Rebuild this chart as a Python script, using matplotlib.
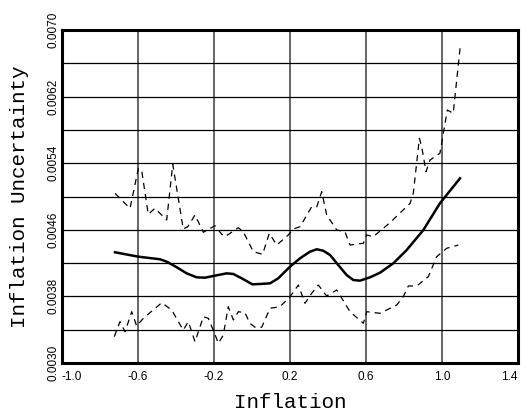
import matplotlib
matplotlib.use('Agg')
import matplotlib.pyplot as plt
import numpy as np

# estimated conditional variance and its confidence band
x_mid = [-0.721, -0.598, -0.484, -0.449, -0.396, -0.344, -0.291, -0.247, -0.204, -0.133,
         -0.098, -0.054, 0.002, 0.042, 0.095, 0.138, 0.200, 0.253, 0.305, 0.341,
         0.375, 0.411, 0.454, 0.498, 0.533, 0.568, 0.621, 0.674, 0.744, 0.814,
         0.902, 0.989, 1.095]
y_mid = [0.004330, 0.004277, 0.004246, 0.004217, 0.004150, 0.004077, 0.004029, 0.004025,
         0.004045, 0.004077, 0.004069, 0.004017, 0.003945, 0.003949, 0.003957, 0.004017,
         0.004157, 0.004258, 0.004337, 0.004366, 0.004349, 0.004297, 0.004177, 0.004057,
         0.003997, 0.003989, 0.004029, 0.004085, 0.004198, 0.004357, 0.004598, 0.004918,
         0.005219]

x_up = [-0.721, -0.695, -0.642, -0.598, -0.581, -0.546, -0.511, -0.449, -0.417, -0.362,
        -0.338, -0.300, -0.256, -0.195, -0.159, -0.142, -0.072, -0.046, 0.007, 0.056,
        0.091, 0.130, 0.191, 0.217, 0.253, 0.314, 0.341, 0.367, 0.393, 0.446,
        0.489, 0.516, 0.586, 0.604, 0.638, 0.726, 0.832, 0.849, 0.881, 0.893,
        0.916, 0.937, 0.989, 1.028, 1.059, 1.095]
y_up = [0.005038, 0.004978, 0.004858, 0.005339, 0.005318, 0.004786, 0.004858, 0.004718,
        0.005387, 0.004610, 0.004637, 0.004778, 0.004570, 0.004649, 0.004546, 0.004517,
        0.004625, 0.004577, 0.004337, 0.004306, 0.004558, 0.004417, 0.004538, 0.004610,
        0.004637, 0.004877, 0.004877, 0.005058, 0.004778, 0.004598, 0.004577, 0.004417,
        0.004438, 0.004538, 0.004517, 0.004685, 0.004918, 0.005038, 0.005699, 0.005598,
        0.005298, 0.005438, 0.005519, 0.006039, 0.005999, 0.006780]

x_lo = [-0.725, -0.695, -0.668, -0.633, -0.607, -0.572, -0.475, -0.423, -0.362, -0.335,
        -0.300, -0.256, -0.230, -0.204, -0.177, -0.151, -0.125, -0.098, -0.072, -0.037,
        -0.011, 0.016, 0.051, 0.095, 0.147, 0.200, 0.244, 0.279, 0.314, 0.349,
        0.393, 0.446, 0.516, 0.586, 0.604, 0.674, 0.762, 0.796, 0.823, 0.867,
        0.928, 0.972, 1.025, 1.086]
y_lo = [0.003316, 0.003496, 0.003376, 0.003616, 0.003444, 0.003537, 0.003724, 0.003637,
        0.003396, 0.003496, 0.003256, 0.003556, 0.003537, 0.003396, 0.003237, 0.003336,
        0.003676, 0.003517, 0.003616, 0.003604, 0.003477, 0.003429, 0.003429, 0.003657,
        0.003676, 0.003796, 0.003937, 0.003717, 0.003837, 0.003937, 0.003805, 0.003877,
        0.003616, 0.003477, 0.003616, 0.003597, 0.003697, 0.003796, 0.003925, 0.003925,
        0.004037, 0.004277, 0.004378, 0.004417]

xticks = [-1.0, -0.6, -0.2, 0.2, 0.6, 1.0, 1.4]
yticks = [0.0030, 0.0038, 0.0046, 0.0054, 0.0062, 0.0070]
ygrid = np.arange(0.0030, 0.00701, 0.0004)

fig = plt.figure(figsize=(5.27, 4.12), dpi=100)
ax = fig.add_axes([62/527, 1 - 363/412, 456/527, 333/412])

ax.plot(x_up, y_up, color='black', lw=0.9, linestyle=(0, (5, 4)))
ax.plot(x_lo, y_lo, color='black', lw=0.9, linestyle=(0, (5, 4)))
ax.plot(x_mid, y_mid, color='black', lw=1.8, solid_joinstyle='round')

ax.set_xlim(-1.0, 1.4)
ax.set_ylim(0.0030, 0.0070)
ax.set_xticks(xticks)
ax.set_xticklabels(['%.1f' % v for v in xticks])
ax.set_yticks(yticks)
ax.set_yticklabels(['%.4f' % v for v in yticks], rotation=90, va='center')
ax.set_yticks(ygrid, minor=True)

# gridlines: vertical only at the inner x ticks, horizontal every 0.0004
for v in xticks[1:-1]:
    ax.axvline(v, color='#4a4a4a', lw=1.2, zorder=0)
for v in ygrid[1:-1]:
    ax.axhline(v, color='black', lw=0.9, zorder=0)

ax.tick_params(which='both', length=0, labelsize=8.5)
ax.tick_params(axis='x', pad=6)
ax.tick_params(axis='y', pad=2)
for lab in ax.get_xticklabels() + ax.get_yticklabels():
    lab.set_family('Liberation Sans')
# keep the first x label clear of the bottom y label
ax.get_xticklabels()[0].set_horizontalalignment('left')
ax.get_xticklabels()[-1].set_horizontalalignment('right')
for s in ax.spines.values():
    s.set_linewidth(2.2)

fig.text(290/527, 1 - 402/412, 'Inflation', family='Liberation Mono',
         fontsize=15, ha='center', va='center')
fig.text(20/527, 1 - 197/412, 'Inflation Uncertainty', family='Liberation Mono',
         fontsize=15, ha='center', va='center', rotation=90)

fig.savefig('out.png', dpi=100)
